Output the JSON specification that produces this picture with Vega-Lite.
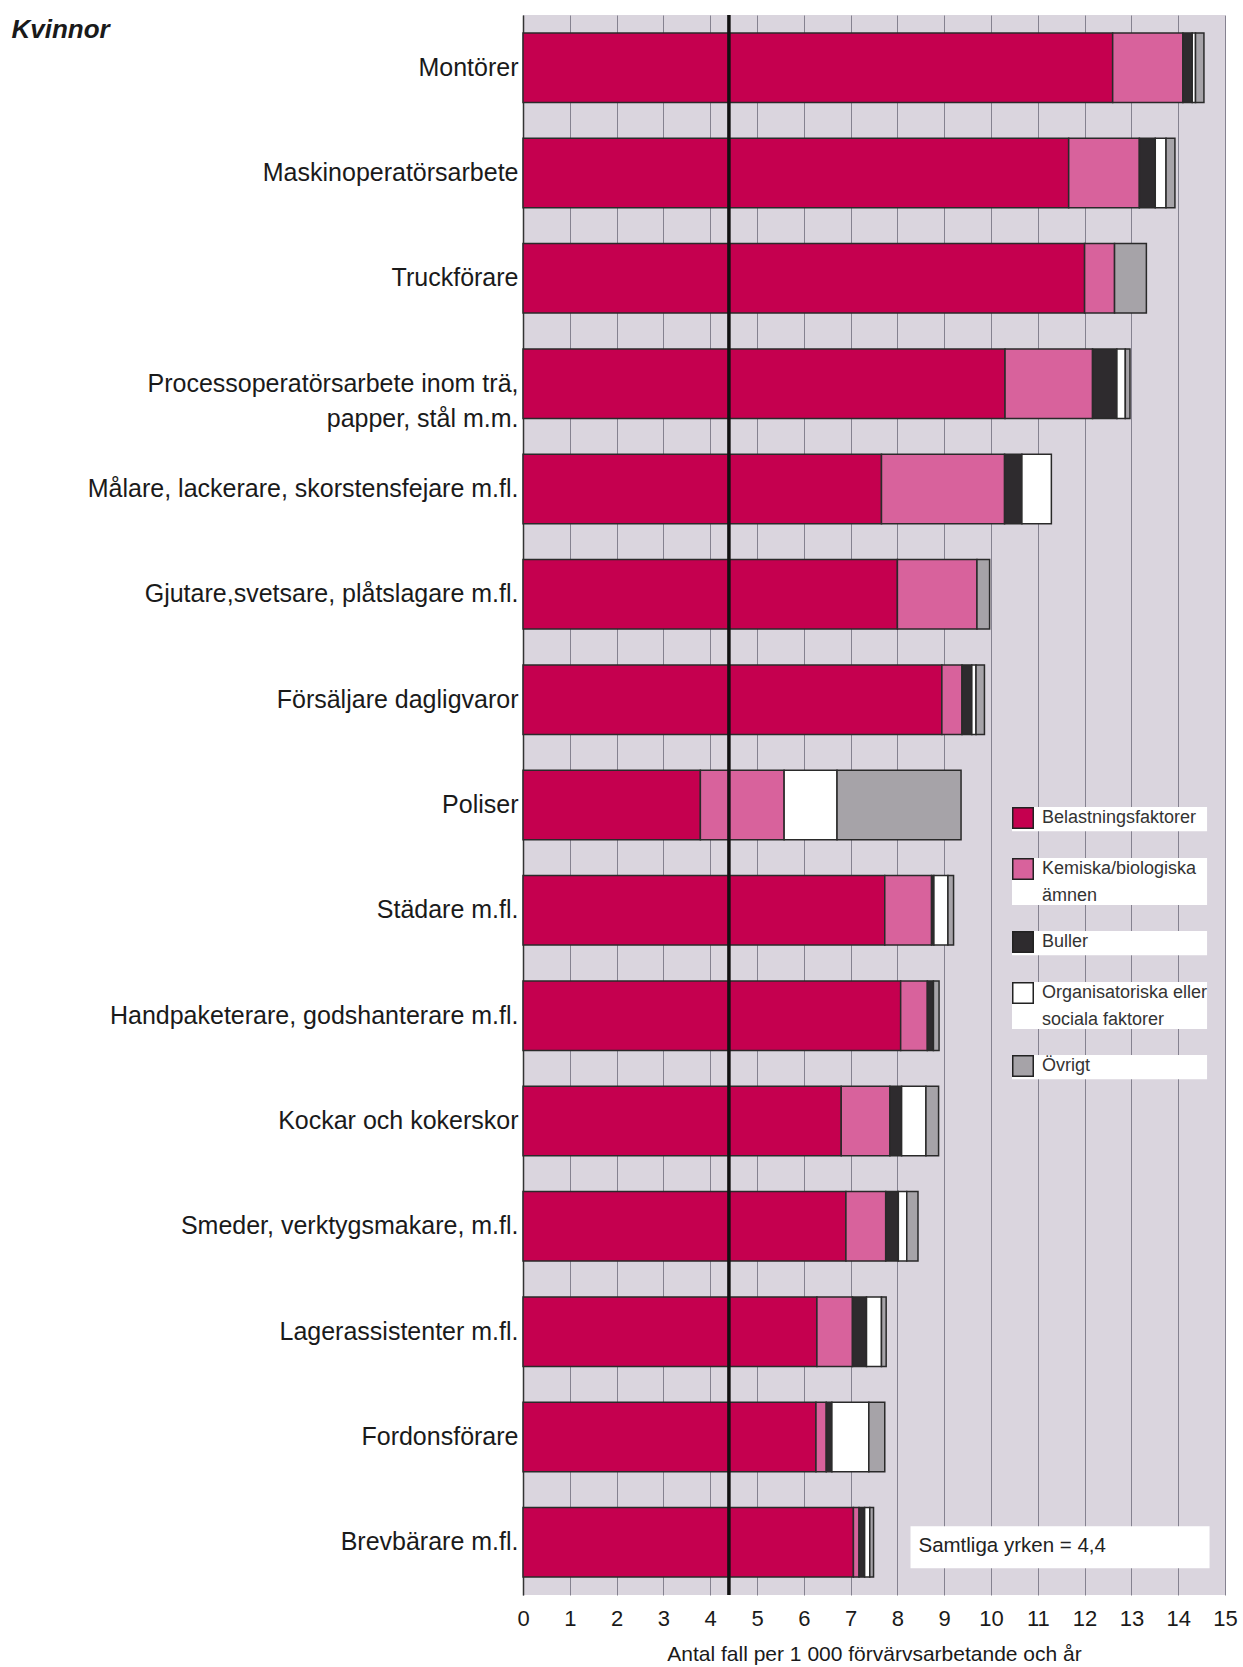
{
  "$schema": "https://vega.github.io/schema/vega-lite/v6.json",
  "width": 702,
  "height": 1580,
  "autosize": {"type": "none"},
  "padding": {"left": 523, "top": 15, "right": 18, "bottom": 72},
  "background": "#ffffff",
  "config": {
    "view": {"fill": "#dad5de", "stroke": null},
    "font": "Liberation Sans"
  },
  "datasets": {
    "yrken": [
      {"yrke": "Montörer", "orsak": "Belastningsfaktorer", "nr": 1, "varde": 12.6},
      {"yrke": "Montörer", "orsak": "Kemiska/biologiska ämnen", "nr": 2, "varde": 1.5},
      {"yrke": "Montörer", "orsak": "Buller", "nr": 3, "varde": 0.2},
      {"yrke": "Montörer", "orsak": "Organisatoriska eller sociala faktorer", "nr": 4, "varde": 0.07},
      {"yrke": "Montörer", "orsak": "Övrigt", "nr": 5, "varde": 0.18},
      {"yrke": "Maskinoperatörsarbete", "orsak": "Belastningsfaktorer", "nr": 1, "varde": 11.66},
      {"yrke": "Maskinoperatörsarbete", "orsak": "Kemiska/biologiska ämnen", "nr": 2, "varde": 1.51},
      {"yrke": "Maskinoperatörsarbete", "orsak": "Buller", "nr": 3, "varde": 0.34},
      {"yrke": "Maskinoperatörsarbete", "orsak": "Organisatoriska eller sociala faktorer", "nr": 4, "varde": 0.23},
      {"yrke": "Maskinoperatörsarbete", "orsak": "Övrigt", "nr": 5, "varde": 0.19},
      {"yrke": "Truckförare", "orsak": "Belastningsfaktorer", "nr": 1, "varde": 12.0},
      {"yrke": "Truckförare", "orsak": "Kemiska/biologiska ämnen", "nr": 2, "varde": 0.64},
      {"yrke": "Truckförare", "orsak": "Övrigt", "nr": 5, "varde": 0.68},
      {"yrke": "Processoperatörsarbete inom trä, papper, stål  m.m.", "orsak": "Belastningsfaktorer", "nr": 1, "varde": 10.3},
      {"yrke": "Processoperatörsarbete inom trä, papper, stål  m.m.", "orsak": "Kemiska/biologiska ämnen", "nr": 2, "varde": 1.87},
      {"yrke": "Processoperatörsarbete inom trä, papper, stål  m.m.", "orsak": "Buller", "nr": 3, "varde": 0.52},
      {"yrke": "Processoperatörsarbete inom trä, papper, stål  m.m.", "orsak": "Organisatoriska eller sociala faktorer", "nr": 4, "varde": 0.18},
      {"yrke": "Processoperatörsarbete inom trä, papper, stål  m.m.", "orsak": "Övrigt", "nr": 5, "varde": 0.1},
      {"yrke": "Målare, lackerare, skorstensfejare m.fl.", "orsak": "Belastningsfaktorer", "nr": 1, "varde": 7.66},
      {"yrke": "Målare, lackerare, skorstensfejare m.fl.", "orsak": "Kemiska/biologiska ämnen", "nr": 2, "varde": 2.63},
      {"yrke": "Målare, lackerare, skorstensfejare m.fl.", "orsak": "Buller", "nr": 3, "varde": 0.37},
      {"yrke": "Målare, lackerare, skorstensfejare m.fl.", "orsak": "Organisatoriska eller sociala faktorer", "nr": 4, "varde": 0.63},
      {"yrke": "Gjutare,svetsare, plåtslagare m.fl.", "orsak": "Belastningsfaktorer", "nr": 1, "varde": 8.0},
      {"yrke": "Gjutare,svetsare, plåtslagare m.fl.", "orsak": "Kemiska/biologiska ämnen", "nr": 2, "varde": 1.7},
      {"yrke": "Gjutare,svetsare, plåtslagare m.fl.", "orsak": "Övrigt", "nr": 5, "varde": 0.27},
      {"yrke": "Försäljare dagligvaror", "orsak": "Belastningsfaktorer", "nr": 1, "varde": 8.95},
      {"yrke": "Försäljare dagligvaror", "orsak": "Kemiska/biologiska ämnen", "nr": 2, "varde": 0.43},
      {"yrke": "Försäljare dagligvaror", "orsak": "Buller", "nr": 3, "varde": 0.21},
      {"yrke": "Försäljare dagligvaror", "orsak": "Organisatoriska eller sociala faktorer", "nr": 4, "varde": 0.09},
      {"yrke": "Försäljare dagligvaror", "orsak": "Övrigt", "nr": 5, "varde": 0.18},
      {"yrke": "Poliser", "orsak": "Belastningsfaktorer", "nr": 1, "varde": 3.79},
      {"yrke": "Poliser", "orsak": "Kemiska/biologiska ämnen", "nr": 2, "varde": 1.79},
      {"yrke": "Poliser", "orsak": "Organisatoriska eller sociala faktorer", "nr": 4, "varde": 1.13},
      {"yrke": "Poliser", "orsak": "Övrigt", "nr": 5, "varde": 2.65},
      {"yrke": "Städare m.fl.", "orsak": "Belastningsfaktorer", "nr": 1, "varde": 7.73},
      {"yrke": "Städare m.fl.", "orsak": "Kemiska/biologiska ämnen", "nr": 2, "varde": 1.0},
      {"yrke": "Städare m.fl.", "orsak": "Buller", "nr": 3, "varde": 0.05},
      {"yrke": "Städare m.fl.", "orsak": "Organisatoriska eller sociala faktorer", "nr": 4, "varde": 0.3},
      {"yrke": "Städare m.fl.", "orsak": "Övrigt", "nr": 5, "varde": 0.12},
      {"yrke": "Handpaketerare, godshanterare m.fl.", "orsak": "Belastningsfaktorer", "nr": 1, "varde": 8.07},
      {"yrke": "Handpaketerare, godshanterare m.fl.", "orsak": "Kemiska/biologiska ämnen", "nr": 2, "varde": 0.57},
      {"yrke": "Handpaketerare, godshanterare m.fl.", "orsak": "Buller", "nr": 3, "varde": 0.13},
      {"yrke": "Handpaketerare, godshanterare m.fl.", "orsak": "Övrigt", "nr": 5, "varde": 0.12},
      {"yrke": "Kockar och kokerskor", "orsak": "Belastningsfaktorer", "nr": 1, "varde": 6.8},
      {"yrke": "Kockar och kokerskor", "orsak": "Kemiska/biologiska ämnen", "nr": 2, "varde": 1.04},
      {"yrke": "Kockar och kokerskor", "orsak": "Buller", "nr": 3, "varde": 0.25},
      {"yrke": "Kockar och kokerskor", "orsak": "Organisatoriska eller sociala faktorer", "nr": 4, "varde": 0.52},
      {"yrke": "Kockar och kokerskor", "orsak": "Övrigt", "nr": 5, "varde": 0.27},
      {"yrke": "Smeder, verktygsmakare, m.fl.", "orsak": "Belastningsfaktorer", "nr": 1, "varde": 6.9},
      {"yrke": "Smeder, verktygsmakare, m.fl.", "orsak": "Kemiska/biologiska ämnen", "nr": 2, "varde": 0.85},
      {"yrke": "Smeder, verktygsmakare, m.fl.", "orsak": "Buller", "nr": 3, "varde": 0.27},
      {"yrke": "Smeder, verktygsmakare, m.fl.", "orsak": "Organisatoriska eller sociala faktorer", "nr": 4, "varde": 0.18},
      {"yrke": "Smeder, verktygsmakare, m.fl.", "orsak": "Övrigt", "nr": 5, "varde": 0.24},
      {"yrke": "Lagerassistenter m.fl.", "orsak": "Belastningsfaktorer", "nr": 1, "varde": 6.28},
      {"yrke": "Lagerassistenter m.fl.", "orsak": "Kemiska/biologiska ämnen", "nr": 2, "varde": 0.76},
      {"yrke": "Lagerassistenter m.fl.", "orsak": "Buller", "nr": 3, "varde": 0.3},
      {"yrke": "Lagerassistenter m.fl.", "orsak": "Organisatoriska eller sociala faktorer", "nr": 4, "varde": 0.32},
      {"yrke": "Lagerassistenter m.fl.", "orsak": "Övrigt", "nr": 5, "varde": 0.1},
      {"yrke": "Fordonsförare", "orsak": "Belastningsfaktorer", "nr": 1, "varde": 6.26},
      {"yrke": "Fordonsförare", "orsak": "Kemiska/biologiska ämnen", "nr": 2, "varde": 0.22},
      {"yrke": "Fordonsförare", "orsak": "Buller", "nr": 3, "varde": 0.12},
      {"yrke": "Fordonsförare", "orsak": "Organisatoriska eller sociala faktorer", "nr": 4, "varde": 0.79},
      {"yrke": "Fordonsförare", "orsak": "Övrigt", "nr": 5, "varde": 0.34},
      {"yrke": "Brevbärare m.fl.", "orsak": "Belastningsfaktorer", "nr": 1, "varde": 7.06},
      {"yrke": "Brevbärare m.fl.", "orsak": "Kemiska/biologiska ämnen", "nr": 2, "varde": 0.12},
      {"yrke": "Brevbärare m.fl.", "orsak": "Buller", "nr": 3, "varde": 0.12},
      {"yrke": "Brevbärare m.fl.", "orsak": "Organisatoriska eller sociala faktorer", "nr": 4, "varde": 0.11},
      {"yrke": "Brevbärare m.fl.", "orsak": "Övrigt", "nr": 5, "varde": 0.08}
    ]
  },
  "layer": [
    {
      "data": {"name": "yrken"},
      "mark": {"type": "bar", "stroke": "#2a2a2a", "strokeWidth": 1.5},
      "encoding": {
        "y": {
          "field": "yrke",
          "type": "nominal",
          "scale": {
            "domain": ["Montörer", "Maskinoperatörsarbete", "Truckförare", "Processoperatörsarbete inom trä, papper, stål  m.m.", "Målare, lackerare, skorstensfejare m.fl.", "Gjutare,svetsare, plåtslagare m.fl.", "Försäljare dagligvaror", "Poliser", "Städare m.fl.", "Handpaketerare, godshanterare m.fl.", "Kockar och kokerskor", "Smeder, verktygsmakare, m.fl.", "Lagerassistenter m.fl.", "Fordonsförare", "Brevbärare m.fl."],
            "paddingInner": 0.34,
            "paddingOuter": 0.17
          },
          "axis": {
            "title": "Kvinnor",
            "titleAngle": 0,
            "titleAlign": "left",
            "titleBaseline": "middle",
            "titleX": -512,
            "titleY": 14,
            "titleFontSize": 26,
            "titleFontStyle": "italic",
            "titleFontWeight": "bold",
            "titleColor": "#1a1a1a",
            "labelFontSize": 25,
            "labelColor": "#1a1a1a",
            "labelLimit": 600,
            "labelPadding": 5,
            "labelLineHeight": 35,
            "labelExpr": "datum.label == 'Processoperatörsarbete inom trä, papper, stål  m.m.' ? ['Processoperatörsarbete inom trä,', 'papper, stål  m.m.'] : datum.label",
            "ticks": false,
            "domain": true,
            "domainColor": "#333333",
            "domainWidth": 1.5
          }
        },
        "x": {
          "field": "varde",
          "type": "quantitative",
          "stack": "zero",
          "scale": {"domain": [0, 15], "nice": false},
          "axis": {
            "title": "Antal  fall per 1 000 förvärvsarbetande och år",
            "titleFontSize": 21,
            "titleFontWeight": "normal",
            "titleColor": "#1a1a1a",
            "titlePadding": 14,
            "values": [0, 1, 2, 3, 4, 5, 6, 7, 8, 9, 10, 11, 12, 13, 14, 15],
            "labelFontSize": 22,
            "labelColor": "#1a1a1a",
            "labelPadding": 13,
            "labelFlush": false,
            "ticks": false,
            "domain": false,
            "grid": true,
            "gridColor": "#858290",
            "gridWidth": 1
          }
        },
        "color": {
          "field": "orsak",
          "type": "nominal",
          "sort": ["Belastningsfaktorer", "Kemiska/biologiska ämnen", "Buller", "Organisatoriska eller sociala faktorer", "Övrigt"],
          "scale": {
            "domain": ["Belastningsfaktorer", "Kemiska/biologiska ämnen", "Buller", "Organisatoriska eller sociala faktorer", "Övrigt"],
            "range": ["#c5004f", "#d8629c", "#2e2b2e", "#ffffff", "#a6a3a8"]
          },
          "legend": {
            "title": null,
            "orient": "none",
            "legendX": 489,
            "legendY": 792,
            "padding": 0,
            "symbolType": "square",
            "symbolSize": 420,
            "symbolStrokeColor": "#222222",
            "symbolStrokeWidth": 1.5,
            "symbolOpacity": 1,
            "labelFontSize": 18,
            "labelColor": "#333333",
            "labelOffset": 8,
            "labelLimit": 300,
            "rowPadding": 23,
            "labelExpr": "datum.label == 'Kemiska/biologiska ämnen' ? ['Kemiska/biologiska', 'ämnen'] : datum.label == 'Organisatoriska eller sociala faktorer' ? ['Organisatoriska eller', 'sociala faktorer'] : datum.label",
            "encode": {
              "entries": {"update": {"fill": {"value": "#ffffff"}, "width": {"value": 230}}},
              "labels": {"update": {"lineHeight": {"value": 27}}}
            }
          }
        },
        "order": {"field": "nr", "type": "quantitative"}
      }
    },
    {
      "data": {"values": [{}]},
      "mark": {"type": "bar", "fill": "#ffffff", "size": 42, "yOffset": 5},
      "encoding": {
        "x": {"datum": 8.28},
        "x2": {"datum": 14.67},
        "y": {"datum": "Brevbärare m.fl."}
      }
    },
    {
      "data": {"values": [{}]},
      "mark": {"type": "text", "align": "left", "baseline": "middle", "fontSize": 20.5, "color": "#222222", "yOffset": 4},
      "encoding": {
        "x": {"datum": 8.45},
        "y": {"datum": "Brevbärare m.fl."},
        "text": {"value": "Samtliga yrken = 4,4"}
      }
    },
    {
      "data": {"values": [{}]},
      "mark": {"type": "rule", "color": "#111111", "strokeWidth": 3.5},
      "encoding": {"x": {"datum": 4.4}}
    }
  ]
}
